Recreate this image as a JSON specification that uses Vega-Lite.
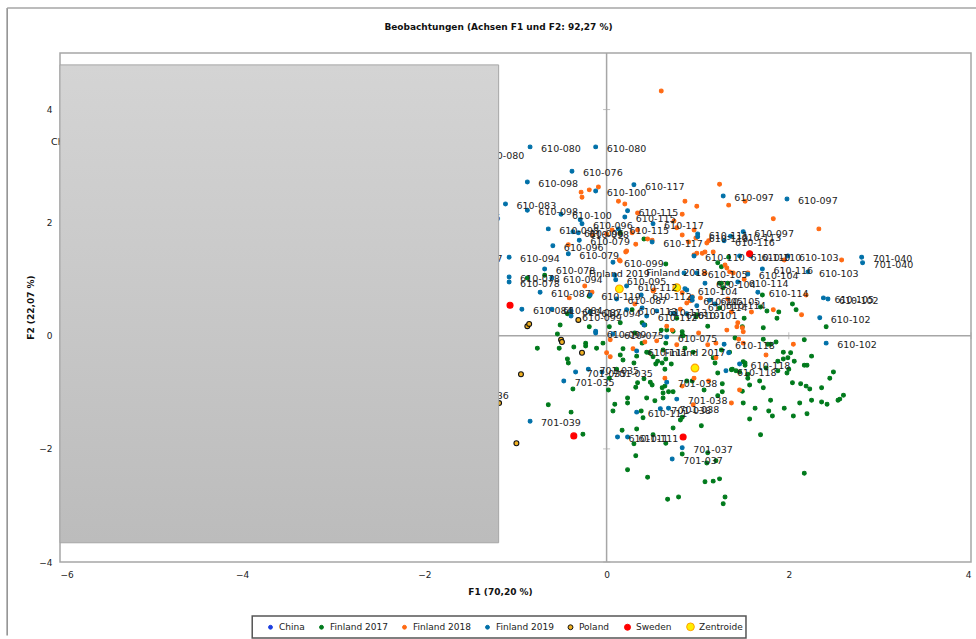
{"$schema":"https://vega.github.io/schema/vega-lite/v6.json","width":911,"height":509,"autosize":"none","padding":{"left":60,"top":53,"right":5,"bottom":77},"background":"white",
"title":{"text":"Beobachtungen (Achsen F1 und F2: 92,27 %)","font":"DejaVu Sans","fontSize":9,"fontWeight":"bold","color":"#111","anchor":"middle","dx":-17,"dy":25,"offset":0},
"config":{"view":{"stroke":"#a6a6a6","strokeWidth":1.5},"axis":{"grid":false,"domain":false,"ticks":false,"labelFont":"DejaVu Sans","labelFontSize":9,"labelColor":"#222","titleFont":"DejaVu Sans","titleFontSize":9,"titleFontWeight":"bold","titleColor":"#111"}},
"datasets":{"obs":[
{"group":"China","F1":-5.0,"F2":2.5},{"group":"China","F1":-4.5,"F2":3.0},{"group":"China","F1":-5.3,"F2":1.5},{"group":"China","F1":-3.6,"F2":2.0},
{"group":"Finland 2017","F1":-0.76,"F2":-0.22},{"group":"Finland 2017","F1":-0.52,"F2":-0.22},{"group":"Finland 2017","F1":-0.36,"F2":-0.2},{"group":"Finland 2017","F1":-0.23,"F2":-0.13},{"group":"Finland 2017","F1":-0.23,"F2":-0.18},{"group":"Finland 2017","F1":-0.11,"F2":-0.22},{"group":"Finland 2017","F1":-0.04,"F2":-0.13},{"group":"Finland 2017","F1":-0.43,"F2":-0.41},{"group":"Finland 2017","F1":-0.42,"F2":-0.48},{"group":"Finland 2017","F1":0.18,"F2":-0.23},{"group":"Finland 2017","F1":0.15,"F2":-0.34},{"group":"Finland 2017","F1":0.18,"F2":-0.43},{"group":"Finland 2017","F1":0.39,"F2":-0.13},{"group":"Finland 2017","F1":0.44,"F2":-0.29},{"group":"Finland 2017","F1":0.47,"F2":-0.3},{"group":"Finland 2017","F1":0.33,"F2":-0.36},{"group":"Finland 2017","F1":0.3,"F2":-0.48},{"group":"Finland 2017","F1":0.65,"F2":-0.13},{"group":"Finland 2017","F1":0.62,"F2":-0.25},{"group":"Finland 2017","F1":0.65,"F2":-0.41},{"group":"Finland 2017","F1":0.61,"F2":-0.48},{"group":"Finland 2017","F1":0.54,"F2":-0.5},{"group":"Finland 2017","F1":0.71,"F2":-0.5},{"group":"Finland 2017","F1":0.64,"F2":-0.59},{"group":"Finland 2017","F1":0.11,"F2":-0.59},{"group":"Finland 2017","F1":0.03,"F2":-0.75},{"group":"Finland 2017","F1":-0.37,"F2":-0.94},{"group":"Finland 2017","F1":0.02,"F2":-0.96},{"group":"Finland 2017","F1":0.41,"F2":-0.76},{"group":"Finland 2017","F1":0.48,"F2":-0.82},{"group":"Finland 2017","F1":0.5,"F2":-0.87},{"group":"Finland 2017","F1":0.34,"F2":-0.83},{"group":"Finland 2017","F1":0.32,"F2":-0.91},{"group":"Finland 2017","F1":0.64,"F2":-0.89},{"group":"Finland 2017","F1":0.61,"F2":-0.92},{"group":"Finland 2017","F1":0.62,"F2":-1.01},{"group":"Finland 2017","F1":0.62,"F2":-1.1},{"group":"Finland 2017","F1":0.68,"F2":-0.99},{"group":"Finland 2017","F1":0.73,"F2":-0.99},{"group":"Finland 2017","F1":0.88,"F2":-0.8},{"group":"Finland 2017","F1":0.94,"F2":-0.8},{"group":"Finland 2017","F1":1.07,"F2":-0.96},{"group":"Finland 2017","F1":1.27,"F2":-0.85},{"group":"Finland 2017","F1":1.27,"F2":-0.99},{"group":"Finland 2017","F1":1.22,"F2":-0.66},{"group":"Finland 2017","F1":1.22,"F2":-1.06},{"group":"Finland 2017","F1":0.23,"F2":-1.1},{"group":"Finland 2017","F1":0.23,"F2":-1.19},{"group":"Finland 2017","F1":0.44,"F2":-1.1},{"group":"Finland 2017","F1":0.53,"F2":-1.15},{"group":"Finland 2017","F1":0.09,"F2":-1.21},{"group":"Finland 2017","F1":0.07,"F2":-1.33},{"group":"Finland 2017","F1":-0.64,"F2":-1.22},{"group":"Finland 2017","F1":-0.39,"F2":-1.35},{"group":"Finland 2017","F1":0.38,"F2":-1.33},{"group":"Finland 2017","F1":0.4,"F2":-1.45},{"group":"Finland 2017","F1":0.81,"F2":-1.49},{"group":"Finland 2017","F1":0.83,"F2":-1.44},{"group":"Finland 2017","F1":0.73,"F2":-1.63},{"group":"Finland 2017","F1":1.04,"F2":-1.59},{"group":"Finland 2017","F1":0.17,"F2":-1.67},{"group":"Finland 2017","F1":0.33,"F2":-1.65},{"group":"Finland 2017","F1":0.51,"F2":-1.75},{"group":"Finland 2017","F1":0.65,"F2":-1.9},{"group":"Finland 2017","F1":-0.26,"F2":-1.74},{"group":"Finland 2017","F1":0.3,"F2":-1.91},{"group":"Finland 2017","F1":0.83,"F2":-2.09},{"group":"Finland 2017","F1":1.11,"F2":-2.07},{"group":"Finland 2017","F1":0.32,"F2":-2.12},{"group":"Finland 2017","F1":1.1,"F2":-2.25},{"group":"Finland 2017","F1":1.2,"F2":-2.21},{"group":"Finland 2017","F1":0.23,"F2":-2.37},{"group":"Finland 2017","F1":0.45,"F2":-2.5},{"group":"Finland 2017","F1":1.08,"F2":-2.58},{"group":"Finland 2017","F1":1.17,"F2":-2.57},{"group":"Finland 2017","F1":1.24,"F2":-2.53},{"group":"Finland 2017","F1":0.67,"F2":-2.89},{"group":"Finland 2017","F1":0.79,"F2":-2.85},{"group":"Finland 2017","F1":1.3,"F2":-2.85},{"group":"Finland 2017","F1":1.28,"F2":-2.97},{"group":"Finland 2017","F1":1.35,"F2":-0.29},{"group":"Finland 2017","F1":1.37,"F2":-0.6},{"group":"Finland 2017","F1":1.42,"F2":-0.62},{"group":"Finland 2017","F1":1.46,"F2":-0.64},{"group":"Finland 2017","F1":1.19,"F2":-0.48},{"group":"Finland 2017","F1":1.17,"F2":-0.39},{"group":"Finland 2017","F1":0.86,"F2":-0.22},{"group":"Finland 2017","F1":0.95,"F2":-0.29},{"group":"Finland 2017","F1":1.41,"F2":-0.04},{"group":"Finland 2017","F1":1.72,"F2":-0.06},{"group":"Finland 2017","F1":1.77,"F2":-0.15},{"group":"Finland 2017","F1":1.8,"F2":-0.15},{"group":"Finland 2017","F1":1.86,"F2":-0.11},{"group":"Finland 2017","F1":2.17,"F2":-0.07},{"group":"Finland 2017","F1":1.94,"F2":-0.29},{"group":"Finland 2017","F1":2.02,"F2":-0.3},{"group":"Finland 2017","F1":1.26,"F2":-0.25},{"group":"Finland 2017","F1":1.94,"F2":-0.41},{"group":"Finland 2017","F1":1.99,"F2":-0.39},{"group":"Finland 2017","F1":1.88,"F2":-0.45},{"group":"Finland 2017","F1":2.06,"F2":-0.45},{"group":"Finland 2017","F1":2.25,"F2":-0.36},{"group":"Finland 2017","F1":2.17,"F2":-0.52},{"group":"Finland 2017","F1":2.2,"F2":-0.52},{"group":"Finland 2017","F1":2.49,"F2":-0.64},{"group":"Finland 2017","F1":2.45,"F2":-0.75},{"group":"Finland 2017","F1":1.52,"F2":-0.48},{"group":"Finland 2017","F1":1.52,"F2":-0.52},{"group":"Finland 2017","F1":1.38,"F2":-0.59},{"group":"Finland 2017","F1":1.55,"F2":-0.68},{"group":"Finland 2017","F1":1.55,"F2":-0.75},{"group":"Finland 2017","F1":1.75,"F2":-0.57},{"group":"Finland 2017","F1":1.88,"F2":-0.62},{"group":"Finland 2017","F1":2.0,"F2":-0.59},{"group":"Finland 2017","F1":1.98,"F2":-0.66},{"group":"Finland 2017","F1":1.68,"F2":-0.8},{"group":"Finland 2017","F1":1.57,"F2":-0.87},{"group":"Finland 2017","F1":1.49,"F2":-0.98},{"group":"Finland 2017","F1":1.72,"F2":-0.92},{"group":"Finland 2017","F1":2.04,"F2":-0.83},{"group":"Finland 2017","F1":2.13,"F2":-0.85},{"group":"Finland 2017","F1":2.19,"F2":-0.89},{"group":"Finland 2017","F1":2.23,"F2":-0.94},{"group":"Finland 2017","F1":2.36,"F2":-0.92},{"group":"Finland 2017","F1":2.6,"F2":-1.05},{"group":"Finland 2017","F1":2.56,"F2":-1.12},{"group":"Finland 2017","F1":2.54,"F2":-1.14},{"group":"Finland 2017","F1":2.25,"F2":-1.14},{"group":"Finland 2017","F1":2.36,"F2":-1.17},{"group":"Finland 2017","F1":2.42,"F2":-1.21},{"group":"Finland 2017","F1":2.12,"F2":-1.19},{"group":"Finland 2017","F1":1.8,"F2":-1.14},{"group":"Finland 2017","F1":1.5,"F2":-1.19},{"group":"Finland 2017","F1":1.63,"F2":-1.28},{"group":"Finland 2017","F1":1.95,"F2":-1.28},{"group":"Finland 2017","F1":1.78,"F2":-1.33},{"group":"Finland 2017","F1":1.82,"F2":-1.42},{"group":"Finland 2017","F1":2.05,"F2":-1.42},{"group":"Finland 2017","F1":2.2,"F2":-1.38},{"group":"Finland 2017","F1":1.57,"F2":-1.47},{"group":"Finland 2017","F1":1.69,"F2":-1.75},{"group":"Finland 2017","F1":2.17,"F2":-2.43},
{"group":"Finland 2017","F1":0.65,"F2":1.27},{"group":"Finland 2017","F1":-0.68,"F2":1.07},{"group":"Finland 2017","F1":-0.87,"F2":1.02},{"group":"Finland 2017","F1":-0.19,"F2":0.7},{"group":"Finland 2017","F1":0.15,"F2":0.23},{"group":"Finland 2017","F1":-0.19,"F2":0.16},{"group":"Finland 2017","F1":0.03,"F2":0.16},{"group":"Finland 2017","F1":-0.54,"F2":0.03},{"group":"Finland 2017","F1":-0.51,"F2":0.19},{"group":"Finland 2017","F1":-0.43,"F2":0.39},{"group":"Finland 2017","F1":0.28,"F2":0.46},{"group":"Finland 2017","F1":0.42,"F2":0.19},{"group":"Finland 2017","F1":0.6,"F2":0.1},{"group":"Finland 2017","F1":0.77,"F2":0.31},{"group":"Finland 2017","F1":1.11,"F2":0.17},{"group":"Finland 2017","F1":0.83,"F2":0.07},{"group":"Finland 2017","F1":0.84,"F2":0.0},{"group":"Finland 2017","F1":0.99,"F2":0.37},{"group":"Finland 2017","F1":0.98,"F2":0.33},{"group":"Finland 2017","F1":0.31,"F2":0.05},{"group":"Finland 2017","F1":1.24,"F2":0.93},{"group":"Finland 2017","F1":1.33,"F2":0.93},{"group":"Finland 2017","F1":1.24,"F2":0.49},{"group":"Finland 2017","F1":0.41,"F2":1.71},{"group":"Finland 2017","F1":0.15,"F2":1.82},{"group":"Finland 2017","F1":1.22,"F2":1.29},{"group":"Finland 2017","F1":1.34,"F2":1.39},{"group":"Finland 2017","F1":1.26,"F2":0.93},{"group":"Finland 2017","F1":1.28,"F2":0.85},{"group":"Finland 2017","F1":1.26,"F2":1.22},{"group":"Finland 2017","F1":1.51,"F2":0.31},{"group":"Finland 2017","F1":0.83,"F2":0.01},{"group":"Finland 2017","F1":0.39,"F2":0.23},{"group":"Finland 2017","F1":0.66,"F2":0.1},{"group":"Finland 2017","F1":0.73,"F2":0.08},{"group":"Finland 2017","F1":1.5,"F2":-0.46},{"group":"Finland 2017","F1":0.51,"F2":-0.37},{"group":"Finland 2017","F1":0.56,"F2":-0.45},{"group":"Finland 2017","F1":1.71,"F2":0.72},{"group":"Finland 2017","F1":1.69,"F2":0.51},{"group":"Finland 2017","F1":1.76,"F2":0.44},{"group":"Finland 2017","F1":1.89,"F2":0.42},{"group":"Finland 2017","F1":1.87,"F2":0.31},{"group":"Finland 2017","F1":2.04,"F2":0.56},{"group":"Finland 2017","F1":2.08,"F2":0.46},{"group":"Finland 2017","F1":1.49,"F2":0.16},{"group":"Finland 2017","F1":1.72,"F2":0.14},{"group":"Finland 2017","F1":2.41,"F2":0.16},
{"group":"Finland 2018","F1":0.6,"F2":4.33},{"group":"Finland 2018","F1":-0.28,"F2":2.54},{"group":"Finland 2018","F1":-0.19,"F2":2.58},{"group":"Finland 2018","F1":-0.09,"F2":2.63},{"group":"Finland 2018","F1":-0.27,"F2":2.45},{"group":"Finland 2018","F1":0.13,"F2":2.38},{"group":"Finland 2018","F1":0.2,"F2":2.33},{"group":"Finland 2018","F1":0.34,"F2":2.17},{"group":"Finland 2018","F1":0.86,"F2":2.38},{"group":"Finland 2018","F1":0.99,"F2":2.29},{"group":"Finland 2018","F1":0.83,"F2":2.15},{"group":"Finland 2018","F1":1.24,"F2":2.68},{"group":"Finland 2018","F1":1.34,"F2":2.31},{"group":"Finland 2018","F1":1.52,"F2":2.38},{"group":"Finland 2018","F1":0.74,"F2":2.03},{"group":"Finland 2018","F1":0.77,"F2":1.91},{"group":"Finland 2018","F1":0.96,"F2":1.87},{"group":"Finland 2018","F1":0.83,"F2":1.78},{"group":"Finland 2018","F1":0.34,"F2":1.87},{"group":"Finland 2018","F1":0.28,"F2":1.82},{"group":"Finland 2018","F1":0.06,"F2":1.87},{"group":"Finland 2018","F1":0.0,"F2":1.8},{"group":"Finland 2018","F1":-0.15,"F2":1.78},{"group":"Finland 2018","F1":0.32,"F2":1.62},{"group":"Finland 2018","F1":0.45,"F2":1.71},{"group":"Finland 2018","F1":0.5,"F2":1.69},{"group":"Finland 2018","F1":0.9,"F2":1.66},{"group":"Finland 2018","F1":0.98,"F2":1.73},{"group":"Finland 2018","F1":1.12,"F2":1.68},{"group":"Finland 2018","F1":-0.42,"F2":1.61},{"group":"Finland 2018","F1":0.21,"F2":1.48},{"group":"Finland 2018","F1":0.99,"F2":1.46},{"group":"Finland 2018","F1":1.08,"F2":1.48},{"group":"Finland 2018","F1":0.15,"F2":1.32},{"group":"Finland 2018","F1":1.32,"F2":1.2},{"group":"Finland 2018","F1":1.3,"F2":1.25},{"group":"Finland 2018","F1":1.35,"F2":1.13},{"group":"Finland 2018","F1":1.55,"F2":1.11},{"group":"Finland 2018","F1":1.08,"F2":1.11},{"group":"Finland 2018","F1":0.52,"F2":0.81},{"group":"Finland 2018","F1":0.83,"F2":0.76},{"group":"Finland 2018","F1":1.03,"F2":0.67},{"group":"Finland 2018","F1":0.92,"F2":0.67},{"group":"Finland 2018","F1":1.83,"F2":2.07},{"group":"Finland 2018","F1":2.33,"F2":1.89},{"group":"Finland 2018","F1":2.58,"F2":1.34},{"group":"Finland 2018","F1":1.95,"F2":1.34},{"group":"Finland 2018","F1":2.19,"F2":0.72},{"group":"Finland 2018","F1":1.51,"F2":1.0},{"group":"Finland 2018","F1":2.14,"F2":0.37},{"group":"Finland 2018","F1":1.83,"F2":0.46},{"group":"Finland 2018","F1":1.59,"F2":0.42},{"group":"Finland 2018","F1":1.37,"F2":0.42},{"group":"Finland 2018","F1":1.44,"F2":0.23},{"group":"Finland 2018","F1":1.43,"F2":0.16},{"group":"Finland 2018","F1":1.49,"F2":0.14},{"group":"Finland 2018","F1":1.5,"F2":0.07},{"group":"Finland 2018","F1":1.45,"F2":-0.06},{"group":"Finland 2018","F1":0.22,"F2":1.5},{"group":"Finland 2018","F1":0.14,"F2":1.34},{"group":"Finland 2018","F1":0.96,"F2":1.43},{"group":"Finland 2018","F1":1.05,"F2":1.46},{"group":"Finland 2018","F1":1.17,"F2":1.48},{"group":"Finland 2018","F1":1.39,"F2":1.11},{"group":"Finland 2018","F1":-0.24,"F2":0.88},{"group":"Finland 2018","F1":-0.16,"F2":0.77},{"group":"Finland 2018","F1":-0.41,"F2":0.67},{"group":"Finland 2018","F1":0.51,"F2":0.79},{"group":"Finland 2018","F1":0.94,"F2":0.69},{"group":"Finland 2018","F1":0.88,"F2":0.58},{"group":"Finland 2018","F1":0.81,"F2":0.47},{"group":"Finland 2018","F1":0.31,"F2":0.56},{"group":"Finland 2018","F1":1.33,"F2":0.65},{"group":"Finland 2018","F1":1.32,"F2":0.1},{"group":"Finland 2018","F1":0.42,"F2":-0.11},{"group":"Finland 2018","F1":0.72,"F2":0.1},{"group":"Finland 2018","F1":0.04,"F2":-0.07},{"group":"Finland 2018","F1":1.1,"F2":1.64},{"group":"Finland 2018","F1":0.92,"F2":0.62},{"group":"Finland 2018","F1":0.66,"F2":0.17},{"group":"Finland 2018","F1":1.01,"F2":0.05},{"group":"Finland 2018","F1":1.2,"F2":-0.13},{"group":"Finland 2018","F1":1.11,"F2":-0.16},{"group":"Finland 2018","F1":0.55,"F2":-0.09},{"group":"Finland 2018","F1":0.0,"F2":-0.3},{"group":"Finland 2018","F1":0.04,"F2":-0.37},{"group":"Finland 2018","F1":0.29,"F2":-0.23},{"group":"Finland 2018","F1":0.64,"F2":-0.75},{"group":"Finland 2018","F1":0.83,"F2":-0.89},{"group":"Finland 2018","F1":0.96,"F2":-0.75},{"group":"Finland 2018","F1":1.12,"F2":-0.8},{"group":"Finland 2018","F1":1.37,"F2":-1.19},{"group":"Finland 2018","F1":0.95,"F2":-1.22},{"group":"Finland 2018","F1":1.2,"F2":-0.39},{"group":"Finland 2018","F1":0.77,"F2":-0.16},{"group":"Finland 2018","F1":1.46,"F2":-0.96},{"group":"Finland 2018","F1":2.05,"F2":-0.15},{"group":"Finland 2018","F1":1.75,"F2":-0.34},{"group":"Finland 2018","F1":1.5,"F2":-0.13},
{"group":"Finland 2019","F1":-0.84,"F2":3.34,"label":"610-080"},{"group":"Finland 2019","F1":-0.12,"F2":3.34,"label":"610-080"},{"group":"Finland 2019","F1":-1.46,"F2":3.21,"label":"610-080"},{"group":"Finland 2019","F1":-0.38,"F2":2.91,"label":"610-076"},{"group":"Finland 2019","F1":-0.87,"F2":2.72,"label":"610-098"},{"group":"Finland 2019","F1":-0.12,"F2":2.56,"label":"610-100"},{"group":"Finland 2019","F1":0.3,"F2":2.67,"label":"610-117"},{"group":"Finland 2019","F1":-1.11,"F2":2.33,"label":"610-083"},{"group":"Finland 2019","F1":-0.87,"F2":2.22,"label":"610-098"},{"group":"Finland 2019","F1":-0.5,"F2":2.15,"label":"610-100"},{"group":"Finland 2019","F1":0.23,"F2":2.21,"label":"610-115"},{"group":"Finland 2019","F1":0.2,"F2":2.1,"label":"610-115"},{"group":"Finland 2019","F1":-0.27,"F2":1.98,"label":"610-096"},{"group":"Finland 2019","F1":-0.29,"F2":2.05},{"group":"Finland 2019","F1":-0.64,"F2":1.89,"label":"610-098"},{"group":"Finland 2019","F1":-0.37,"F2":1.84,"label":"610-096"},{"group":"Finland 2019","F1":-0.31,"F2":1.82,"label":"610-098"},{"group":"Finland 2019","F1":0.13,"F2":1.89,"label":"610-115"},{"group":"Finland 2019","F1":-0.3,"F2":1.69,"label":"610-079"},{"group":"Finland 2019","F1":-0.59,"F2":1.59,"label":"610-096"},{"group":"Finland 2019","F1":0.5,"F2":1.66,"label":"610-117"},{"group":"Finland 2019","F1":0.51,"F2":1.98,"label":"610-117"},{"group":"Finland 2019","F1":1.0,"F2":1.8,"label":"610-111"},{"group":"Finland 2019","F1":1.0,"F2":1.75,"label":"610-113"},{"group":"Finland 2019","F1":1.28,"F2":2.47,"label":"610-097"},{"group":"Finland 2019","F1":1.98,"F2":2.42,"label":"610-097"},{"group":"Finland 2019","F1":1.5,"F2":1.84,"label":"610-097"},{"group":"Finland 2019","F1":1.36,"F2":1.76,"label":"610-113"},{"group":"Finland 2019","F1":1.29,"F2":1.68,"label":"610-116"},{"group":"Finland 2019","F1":0.96,"F2":1.41,"label":"610-110"},{"group":"Finland 2019","F1":1.46,"F2":1.41,"label":"610-110"},{"group":"Finland 2019","F1":1.58,"F2":1.41,"label":"610-110"},{"group":"Finland 2019","F1":1.99,"F2":1.41,"label":"610-103"},{"group":"Finland 2019","F1":2.8,"F2":1.39,"label":"701-040"},{"group":"Finland 2019","F1":2.81,"F2":1.29,"label":"701-040"},{"group":"Finland 2019","F1":1.71,"F2":1.18,"label":"610-116"},{"group":"Finland 2019","F1":2.21,"F2":1.13,"label":"610-103"},{"group":"Finland 2019","F1":1.55,"F2":1.09,"label":"610-104"},{"group":"Finland 2019","F1":1.44,"F2":0.95,"label":"610-114"},{"group":"Finland 2019","F1":1.66,"F2":0.77,"label":"610-114"},{"group":"Finland 2019","F1":2.38,"F2":0.67,"label":"610-105"},{"group":"Finland 2019","F1":2.43,"F2":0.65,"label":"610-102"},{"group":"Finland 2019","F1":2.34,"F2":0.32,"label":"610-102"},{"group":"Finland 2019","F1":2.41,"F2":-0.13,"label":"610-102"},{"group":"Finland 2019","F1":1.29,"F2":-0.15,"label":"610-118"},{"group":"Finland 2019","F1":1.46,"F2":-0.5,"label":"610-118"},{"group":"Finland 2019","F1":1.31,"F2":-0.62,"label":"610-118"},{"group":"Finland 2019","F1":-0.42,"F2":1.45,"label":"610-079"},{"group":"Finland 2019","F1":-1.07,"F2":1.39,"label":"610-094"},{"group":"Finland 2019","F1":-1.7,"F2":1.39,"label":"610-077"},{"group":"Finland 2019","F1":-1.72,"F2":2.12,"label":"610-095"},{"group":"Finland 2019","F1":0.07,"F2":1.3,"label":"610-099"},{"group":"Finland 2019","F1":-0.68,"F2":1.18,"label":"610-078"},{"group":"Finland 2019","F1":-1.07,"F2":1.04,"label":"610-078"},{"group":"Finland 2019","F1":-1.07,"F2":0.95,"label":"610-078"},{"group":"Finland 2019","F1":-0.6,"F2":1.02,"label":"610-094"},{"group":"Finland 2019","F1":0.1,"F2":0.99,"label":"610-095"},{"group":"Finland 2019","F1":-0.73,"F2":0.77,"label":"610-087"},{"group":"Finland 2019","F1":-0.18,"F2":0.72,"label":"610-119"},{"group":"Finland 2019","F1":0.11,"F2":0.65,"label":"610-087"},{"group":"Finland 2019","F1":0.22,"F2":0.88,"label":"610-112"},{"group":"Finland 2019","F1":0.38,"F2":0.72,"label":"610-112"},{"group":"Finland 2019","F1":0.44,"F2":0.35,"label":"610-112"},{"group":"Finland 2019","F1":0.99,"F2":1.11,"label":"610-105"},{"group":"Finland 2019","F1":0.85,"F2":1.11},{"group":"Finland 2019","F1":-0.93,"F2":0.47,"label":"610-084"},{"group":"Finland 2019","F1":-0.6,"F2":0.47,"label":"610-084"},{"group":"Finland 2019","F1":-0.39,"F2":0.44,"label":"610-087"},{"group":"Finland 2019","F1":-0.18,"F2":0.42,"label":"610-094"},{"group":"Finland 2019","F1":-0.39,"F2":0.35,"label":"610-099"},{"group":"Finland 2019","F1":0.22,"F2":0.46,"label":"610-113"},{"group":"Finland 2019","F1":0.55,"F2":0.44,"label":"610-113"},{"group":"Finland 2019","F1":0.75,"F2":0.39,"label":"610-101"},{"group":"Finland 2019","F1":0.88,"F2":0.39,"label":"610-101"},{"group":"Finland 2019","F1":0.94,"F2":0.63,"label":"610-105"},{"group":"Finland 2019","F1":1.13,"F2":0.63,"label":"610-105"},{"group":"Finland 2019","F1":1.19,"F2":0.56,"label":"610-114"},{"group":"Finland 2019","F1":0.99,"F2":0.53,"label":"610-114"},{"group":"Finland 2019","F1":0.88,"F2":0.81,"label":"610-104"},{"group":"Finland 2019","F1":1.08,"F2":0.93,"label":"610-104"},{"group":"Finland 2019","F1":-0.12,"F2":0.05,"label":"610-099"},{"group":"Finland 2019","F1":0.07,"F2":0.03,"label":"610-075"},{"group":"Finland 2019","F1":0.66,"F2":-0.02,"label":"610-075"},{"group":"Finland 2019","F1":-0.34,"F2":-0.64,"label":"701-035"},{"group":"Finland 2019","F1":-0.47,"F2":-0.8,"label":"701-035"},{"group":"Finland 2019","F1":-0.2,"F2":-0.59,"label":"701-035"},{"group":"Finland 2019","F1":-0.05,"F2":-0.64,"label":"701-035"},{"group":"Finland 2019","F1":0.33,"F2":-0.27,"label":"610-111"},{"group":"Finland 2019","F1":0.66,"F2":-0.82,"label":"701-038"},{"group":"Finland 2019","F1":0.77,"F2":-1.12,"label":"701-038"},{"group":"Finland 2019","F1":0.33,"F2":-1.35,"label":"610-111"},{"group":"Finland 2019","F1":0.59,"F2":-1.29,"label":"701-038"},{"group":"Finland 2019","F1":0.68,"F2":-1.28,"label":"701-038"},{"group":"Finland 2019","F1":-0.84,"F2":-1.51,"label":"701-039"},{"group":"Finland 2019","F1":0.12,"F2":-1.79,"label":"610-111"},{"group":"Finland 2019","F1":0.23,"F2":-1.79,"label":"610-111"},{"group":"Finland 2019","F1":0.83,"F2":-1.98,"label":"701-037"},{"group":"Finland 2019","F1":0.72,"F2":-2.18,"label":"701-037"},{"group":"Finland 2019","F1":-1.63,"F2":-1.03,"label":"701-036"},{"group":"Finland 2019","F1":0.09,"F2":1.07},{"group":"Finland 2019","F1":0.86,"F2":0.83},{"group":"Finland 2019","F1":0.94,"F2":0.68},{"group":"Finland 2019","F1":1.34,"F2":-0.3},{"group":"Finland 2019","F1":0.73,"F2":0.4},{"group":"Finland 2019","F1":0.39,"F2":0.49},{"group":"Finland 2019","F1":-0.12,"F2":0.08},{"group":"Finland 2019","F1":0.41,"F2":0.19},
{"group":"Poland","F1":-1.18,"F2":-1.19},{"group":"Poland","F1":-0.99,"F2":-1.9},{"group":"Poland","F1":-0.94,"F2":-0.68},{"group":"Poland","F1":-0.87,"F2":0.17},{"group":"Poland","F1":-0.85,"F2":0.21},{"group":"Poland","F1":-0.5,"F2":-0.07},{"group":"Poland","F1":-0.49,"F2":-0.11},{"group":"Poland","F1":-0.31,"F2":0.28},{"group":"Poland","F1":-0.27,"F2":-0.3},
{"group":"Sweden","F1":-1.06,"F2":0.54},{"group":"Sweden","F1":-0.36,"F2":-1.77},{"group":"Sweden","F1":0.84,"F2":-1.79},{"group":"Sweden","F1":1.57,"F2":1.45},
{"group":"Zentroide","F1":0.14,"F2":0.83,"label":"Finland 2019"},{"group":"Zentroide","F1":0.77,"F2":0.85,"label":"Finland 2018"},{"group":"Zentroide","F1":0.97,"F2":-0.57,"label":"Finland 2017"},{"group":"Zentroide","F1":-5.95,"F2":3.16,"label":"China"}
]},
"layer":[
{"data":{"values":[{"F1":0}]},"mark":{"type":"rule","color":"#a6a6a6","strokeWidth":1.5},"encoding":{"x":{"field":"F1","type":"quantitative","scale":{"domain":[-6,4],"nice":false,"zero":false},"axis":{"title":"F1 (70,20 %)","values":[-6,-4,-2,0,2,4],"format":"d","labelPadding":8,"titleX":440,"titleY":25,"labelAngle":0}}}},
{"data":{"values":[{"F2":0}]},"mark":{"type":"rule","color":"#a6a6a6","strokeWidth":1.5},"encoding":{"y":{"field":"F2","type":"quantitative","scale":{"domain":[-4,5],"nice":false,"zero":false},"axis":{"title":"F2 (22,07 %)","values":[-4,-2,0,2,4],"format":"d","labelPadding":8,"titleX":-25,"titleY":254}}}},
{"data":{"values":[{"F1":-6},{"F1":-4},{"F1":-2},{"F1":0},{"F1":2},{"F1":4}]},"mark":{"type":"tick","orient":"vertical","size":7,"color":"#a6a6a6","thickness":1},"encoding":{"x":{"field":"F1","type":"quantitative"},"y":{"datum":0}}},
{"data":{"values":[{"F2":-4},{"F2":-2},{"F2":0},{"F2":2},{"F2":4}]},"mark":{"type":"tick","orient":"horizontal","size":7,"color":"#a6a6a6","thickness":1},"encoding":{"y":{"field":"F2","type":"quantitative"},"x":{"datum":0}}},
{"data":{"values":[{"a":-3.89,"b":1.53,"c":-4.954,"d":-5.343}]},"mark":{"type":"rect","fill":"white","stroke":"#555555","strokeWidth":1.5},"encoding":{"x":{"field":"a","type":"quantitative"},"x2":{"field":"b"},"y":{"field":"c","type":"quantitative"},"y2":{"field":"d"}}},
{"data":{"name":"obs"},"mark":{"type":"circle","opacity":1,"strokeWidth":1.1},"encoding":{"x":{"field":"F1","type":"quantitative"},"y":{"field":"F2","type":"quantitative"},
"fill":{"field":"group","type":"nominal","scale":{"domain":["China","Finland 2017","Finland 2018","Finland 2019","Poland","Sweden","Zentroide"],"range":["#1c3fe0","#007a1c","#ff6a13","#0070a8","#f0b020","#ff0000","#ffee00"]},"legend":{"orient":"none","legendX":200,"legendY":563,"direction":"horizontal","columns":7,"title":null,"gridAlign":"each","columnPadding":12,"symbolOpacity":1,"labelFont":"DejaVu Sans","labelFontSize":9,"labelColor":"#222","padding":6,"symbolStrokeWidth":1,"labelOffset":4,"offset":0}},
"stroke":{"field":"group","type":"nominal","scale":{"domain":["China","Finland 2017","Finland 2018","Finland 2019","Poland","Sweden","Zentroide"],"range":["#1c3fe0","#007a1c","#ff6a13","#0070a8","#111111","#ff0000","#ffa000"]},"legend":{"orient":"none","legendX":200,"legendY":563,"direction":"horizontal","columns":7,"title":null}},
"size":{"field":"group","type":"nominal","scale":{"type":"ordinal","domain":["China","Finland 2017","Finland 2018","Finland 2019","Poland","Sweden","Zentroide"],"range":[15,15,15,15,24,36,60]},"legend":{"orient":"none","legendX":200,"legendY":563,"direction":"horizontal","columns":7,"title":null}}}},
{"data":{"name":"obs"},"transform":[{"filter":"datum.label && datum.group !== 'Zentroide'"}],"mark":{"type":"text","align":"left","baseline":"middle","dx":11,"dy":2,"font":"DejaVu Sans","fontSize":9.5,"color":"#222"},"encoding":{"x":{"field":"F1","type":"quantitative"},"y":{"field":"F2","type":"quantitative"},"text":{"field":"label"}}},
{"data":{"name":"obs"},"transform":[{"filter":"datum.group === 'Zentroide'"}],"mark":{"type":"text","align":"center","baseline":"middle","dy":-15,"font":"DejaVu Sans","fontSize":9.5,"color":"#111"},"encoding":{"x":{"field":"F1","type":"quantitative"},"y":{"field":"F2","type":"quantitative"},"text":{"field":"label"}}},
{"data":{"values":[{"a":-6,"b":-1.185,"c":4.79,"d":-3.66}]},"mark":{"type":"rect","stroke":"#a6a6a6","strokeWidth":1,"color":{"gradient":"linear","x1":0,"y1":0,"x2":0,"y2":1,"stops":[{"offset":0,"color":"#d4d4d4"},{"offset":1,"color":"#bcbcbc"}]}},"encoding":{"x":{"field":"a","type":"quantitative"},"x2":{"field":"b"},"y":{"field":"c","type":"quantitative"},"y2":{"field":"d"}}},
{"data":{"values":[{"a":-6.58,"c":5.795,"d":-5.3}]},"mark":{"type":"rule","color":"#8c8c8c","strokeWidth":1.5},"encoding":{"x":{"field":"a","type":"quantitative"},"y":{"field":"c","type":"quantitative"},"y2":{"field":"d"}}},
{"data":{"values":[{"a":-6.58,"b":4.06,"c":5.795}]},"mark":{"type":"rule","color":"#a6a6a6","strokeWidth":1.5},"encoding":{"x":{"field":"a","type":"quantitative"},"x2":{"field":"b"},"y":{"field":"c","type":"quantitative"}}}
]}
